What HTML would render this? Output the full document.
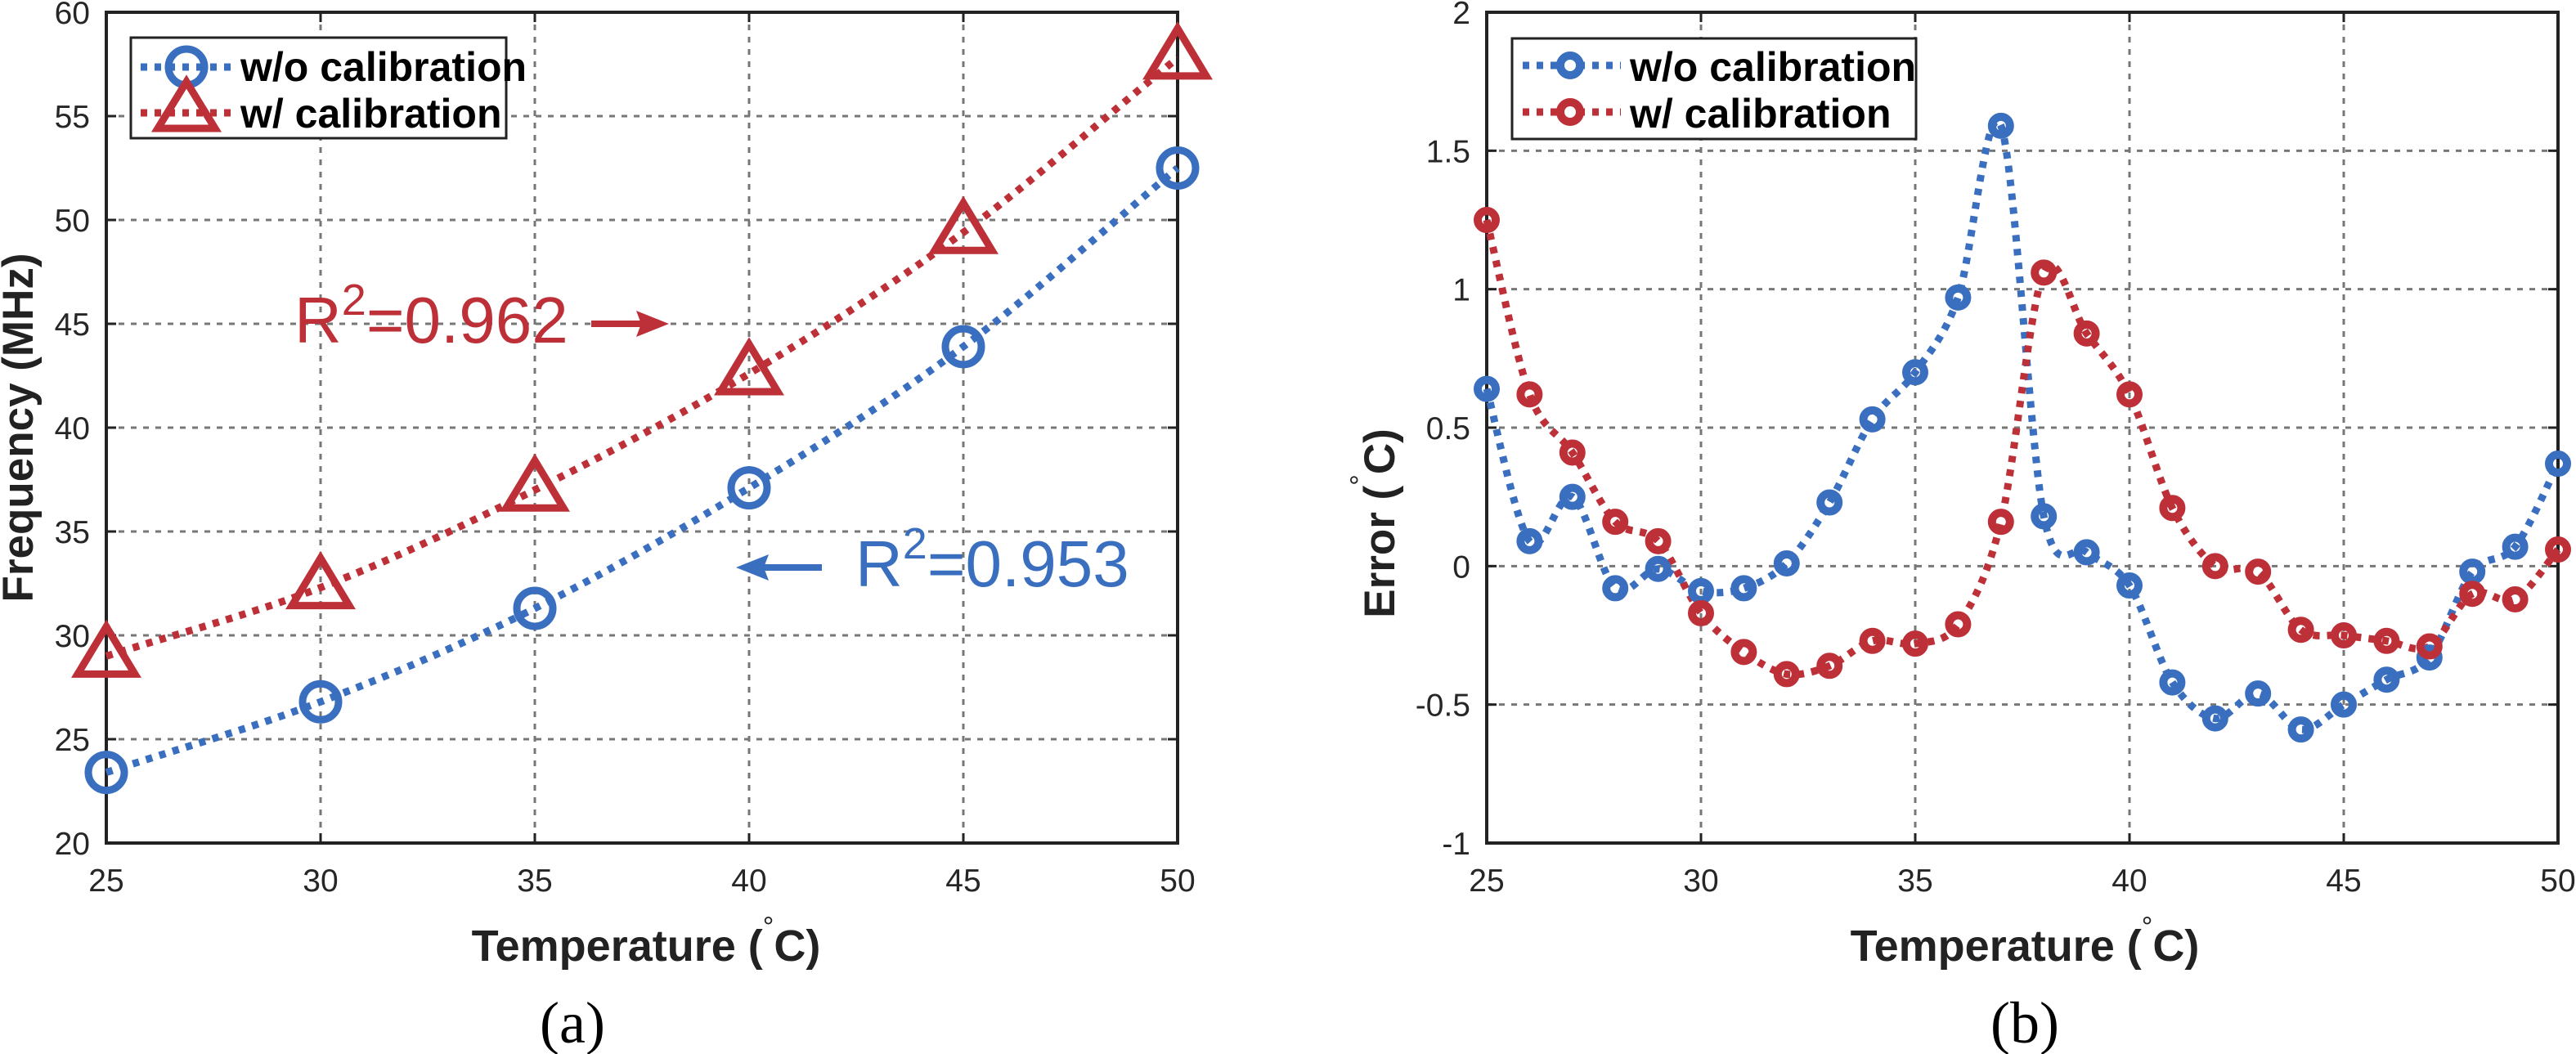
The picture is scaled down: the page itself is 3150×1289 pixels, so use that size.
<!DOCTYPE html>
<html><head><meta charset="utf-8">
<style>
html,body{margin:0;padding:0;background:#fff;}
svg{display:block;}
</style></head>
<body>
<svg id="s" width="3150" height="1289" viewBox="0 0 3150 1289" xmlns="http://www.w3.org/2000/svg" font-family="'Liberation Sans', sans-serif">
<rect width="3150" height="1289" fill="#fff"/>
<g id="g"></g>

<!-- Left legend -->
<rect x="160" y="46" width="459" height="123" fill="#fff" stroke="#222" stroke-width="3"/>
<line x1="172" y1="82" x2="285" y2="82" stroke="#3a6fc0" stroke-width="9" stroke-dasharray="8 9"/>
<circle cx="228" cy="82" r="22" fill="none" stroke="#3a6fc0" stroke-width="9"/>
<line x1="172" y1="138" x2="285" y2="138" stroke="#be3038" stroke-width="9" stroke-dasharray="8 9"/>
<path d="M228,100 L193,157 L263,157 Z" fill="none" stroke="#be3038" stroke-width="9" stroke-linejoin="miter"/>
<text x="294" y="99" font-size="50" font-weight="bold" fill="#000">w/o calibration</text>
<text x="294" y="156" font-size="50" font-weight="bold" fill="#000">w/ calibration</text>

<!-- R^2 annotations -->
<text x="360" y="419" font-size="80" fill="#be3038">R<tspan dy="-34" font-size="54">2</tspan><tspan dy="34">=0.962</tspan></text>
<line x1="723" y1="396" x2="795" y2="396" stroke="#be3038" stroke-width="8"/>
<path d="M818,396 L778,380 L784,396 L778,412 Z" fill="#be3038"/>
<text x="1046" y="717" font-size="80" fill="#3a6fc0">R<tspan dy="-34" font-size="54">2</tspan><tspan dy="34">=0.953</tspan></text>
<line x1="925" y1="694" x2="1005" y2="694" stroke="#3a6fc0" stroke-width="8"/>
<path d="M900,694 L940,678 L934,694 L940,710 Z" fill="#3a6fc0"/>

<!-- Right legend -->
<rect x="1849" y="47" width="494" height="123" fill="#fff" stroke="#222" stroke-width="3"/>
<line x1="1862" y1="80" x2="1982" y2="80" stroke="#3a6fc0" stroke-width="9" stroke-dasharray="8 9"/>
<circle cx="1920" cy="80" r="12" fill="#fff" stroke="#3a6fc0" stroke-width="10"/>
<line x1="1862" y1="137" x2="1982" y2="137" stroke="#be3038" stroke-width="9" stroke-dasharray="8 9"/>
<circle cx="1920" cy="137" r="12" fill="#fff" stroke="#be3038" stroke-width="10"/>
<text x="1993" y="99" font-size="50" font-weight="bold" fill="#000">w/o calibration</text>
<text x="1993" y="156" font-size="50" font-weight="bold" fill="#000">w/ calibration</text>

<!-- axis labels -->
<text x="790" y="1175" font-size="54" font-weight="bold" fill="#222" text-anchor="middle">Temperature (<tspan dy="-30" font-size="34" font-weight="normal">°</tspan><tspan dy="30">C)</tspan></text>
<text x="2476" y="1175" font-size="54" font-weight="bold" fill="#222" text-anchor="middle">Temperature (<tspan dy="-30" font-size="34" font-weight="normal">°</tspan><tspan dy="30">C)</tspan></text>
<text transform="translate(40,523) rotate(-90)" font-size="53" font-weight="bold" fill="#222" text-anchor="middle">Frequency (MHz)</text>
<text transform="translate(1705,640) rotate(-90)" font-size="53" font-weight="bold" fill="#222" text-anchor="middle">Error (<tspan dy="-30" font-size="34" font-weight="normal">°</tspan><tspan dy="30">C)</tspan></text>
<text x="700" y="1275" font-size="72" font-family="'Liberation Serif', serif" fill="#000" text-anchor="middle">(a)</text>
<text x="2476" y="1275" font-size="72" font-family="'Liberation Serif', serif" fill="#000" text-anchor="middle">(b)</text>
</svg>
<script>
(function(){
var NS="http://www.w3.org/2000/svg",g=document.getElementById('g');
function el(t,a,p){var e=document.createElementNS(NS,t);for(var k in a)e.setAttribute(k,a[k]);(p||g).appendChild(e);return e;}
function txt(x,y,s,anchor){var t=el('text',{x:x,y:y,'font-size':39,fill:'#262626','text-anchor':anchor});t.textContent=s;}
function spline(pts){var d='M'+pts[0][0]+','+pts[0][1];for(var i=0;i<pts.length-1;i++){var p0=pts[i-1]||pts[i],p1=pts[i],p2=pts[i+1],p3=pts[i+2]||p2;var t=0.16;
d+=' C'+(p1[0]+(p2[0]-p0[0])*t)+','+(p1[1]+(p2[1]-p0[1])*t)+' '+(p2[0]-(p3[0]-p1[0])*t)+','+(p2[1]-(p3[1]-p1[1])*t)+' '+p2[0]+','+p2[1];}return d;}
function axes(L,R,T,B,xt,yt,X,Y,ylab){
 xt.forEach(function(v){var x=X(v);if(x>L+2&&x<R-2)el('line',{x1:x,y1:T,x2:x,y2:B,stroke:'#777','stroke-width':3,'stroke-dasharray':'7 8'});
   el('line',{x1:x,y1:B,x2:x,y2:B-12,stroke:'#222','stroke-width':3});el('line',{x1:x,y1:T,x2:x,y2:T+12,stroke:'#222','stroke-width':3});
   txt(x,1090,String(v),'middle');});
 yt.forEach(function(v,i){var y=Y(v);if(y>T+2&&y<B-2)el('line',{x1:L,y1:y,x2:R,y2:y,stroke:'#777','stroke-width':3,'stroke-dasharray':'7 8'});
   el('line',{x1:L,y1:y,x2:L+12,y2:y,stroke:'#222','stroke-width':3});el('line',{x1:R,y1:y,x2:R-12,y2:y,stroke:'#222','stroke-width':3});
   txt(L-20,y+14,ylab[i],'end');});
 el('rect',{x:L,y:T,width:R-L,height:B-T,fill:'none',stroke:'#222','stroke-width':4});
}
// left
var XL=function(v){return 130+(v-25)*52.4},YL=function(v){return 1031-(v-20)*25.4};
axes(130,1440,15,1031,[25,30,35,40,45,50],[20,25,30,35,40,45,50,55,60],XL,YL,['20','25','30','35','40','45','50','55','60']);
var xs=[25,30,35,40,45,50],bl=[23.4,26.8,31.3,37.1,43.9,52.5],rd=[29,32.3,37,42.6,49.4,57.8];
function fine(ys){var pts=[];for(var i=0;i<=100;i++){var t=25+i*0.25;var j=Math.min(4,Math.floor((t-25)/5));var u=(t-xs[j])/5;
 var p0=ys[j-1]!==undefined?ys[j-1]:2*ys[j]-ys[j+1],p1=ys[j],p2=ys[j+1],p3=ys[j+2]!==undefined?ys[j+2]:2*ys[j+1]-ys[j];
 var y=0.5*((2*p1)+(-p0+p2)*u+(2*p0-5*p1+4*p2-p3)*u*u+(-p0+3*p1-3*p2+p3)*u*u*u);pts.push([XL(t),YL(y)]);}return pts;}
function poly(pts){return 'M'+pts.map(function(p){return p[0].toFixed(1)+','+p[1].toFixed(1)}).join(' L');}
el('path',{d:poly(fine(bl)),fill:'none',stroke:'#3a6fc0','stroke-width':9,'stroke-dasharray':'8 9'});
el('path',{d:poly(fine(rd)),fill:'none',stroke:'#be3038','stroke-width':9,'stroke-dasharray':'8 9'});
xs.forEach(function(v,i){el('circle',{cx:XL(v),cy:YL(bl[i]),r:22,fill:'none',stroke:'#3a6fc0','stroke-width':9});
 var cx=XL(v),cy=YL(rd[i]);el('path',{d:'M'+cx+','+(cy-36)+' L'+(cx-35)+','+(cy+22)+' L'+(cx+35)+','+(cy+22)+' Z',fill:'none',stroke:'#be3038','stroke-width':9});});
// right
var XR=function(v){return 1818+(v-25)*52.4},YR=function(v){return 15+(2-v)*338.67};
axes(1818,3128,15,1031,[25,30,35,40,45,50],[-1,-0.5,0,0.5,1,1.5,2],XR,YR,['-1','-0.5','0','0.5','1','1.5','2']);
var B=[0.64,0.09,0.25,-0.08,-0.01,-0.09,-0.08,0.01,0.23,0.53,0.70,0.97,1.59,0.18,0.05,-0.07,-0.42,-0.55,-0.46,-0.59,-0.50,-0.41,-0.33,-0.02,0.07,0.37];
var Rr=[1.25,0.62,0.41,0.16,0.09,-0.17,-0.31,-0.39,-0.36,-0.27,-0.28,-0.21,0.16,1.06,0.84,0.62,0.21,0.00,-0.02,-0.23,-0.25,-0.27,-0.29,-0.10,-0.12,0.06];
function pp(a){return a.map(function(v,i){return [XR(25+i),YR(v)];});}
el('path',{d:spline(pp(B)),fill:'none',stroke:'#3a6fc0','stroke-width':9,'stroke-dasharray':'8 9'});
el('path',{d:spline(pp(Rr)),fill:'none',stroke:'#be3038','stroke-width':9,'stroke-dasharray':'8 9'});
B.forEach(function(v,i){el('circle',{cx:XR(25+i),cy:YR(v),r:11,fill:'none',stroke:'#3a6fc0','stroke-width':10});});
Rr.forEach(function(v,i){el('circle',{cx:XR(25+i),cy:YR(v),r:11,fill:'none',stroke:'#be3038','stroke-width':10});});
})();
</script>
</body></html>
